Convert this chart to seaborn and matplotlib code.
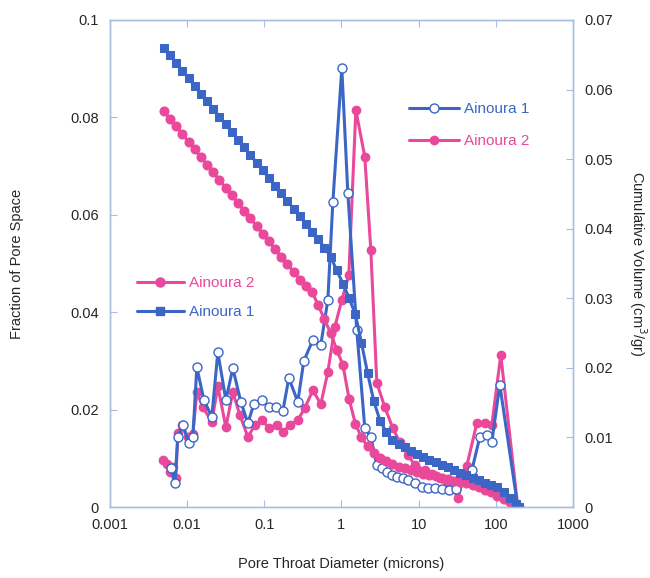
import matplotlib
matplotlib.use("Agg")
import matplotlib.pyplot as plt
import seaborn as sns
import pandas as pd
from matplotlib.lines import Line2D

# Pore throat size distribution (fraction of pore space), diameters in microns
a1_dist_d = [0.00617, 0.00695, 0.0076, 0.00883, 0.01054, 0.01189, 0.0134, 0.01652,
             0.02094, 0.02506, 0.03184, 0.03917, 0.04977, 0.06138, 0.07328, 0.09311,
             0.1148, 0.1413, 0.1742, 0.2084, 0.2723, 0.3258, 0.4266, 0.5408, 0.6668,
             0.7745, 1.012, 1.211, 1.581, 2.009, 2.404, 2.877, 3.334, 3.873, 4.498,
             5.224, 6.237, 7.244, 8.933, 10.99, 13.15, 16.22, 20.0, 24.6, 30.34,
             38.46, 48.9, 62.1, 76.4, 88.7, 112.7, 192.8]
a1_dist = [0.0080, 0.0049, 0.0144, 0.0168, 0.0131, 0.0144, 0.0287, 0.0220, 0.0185,
           0.0318, 0.0220, 0.0285, 0.0216, 0.0172, 0.0211, 0.0220, 0.0205, 0.0205,
           0.0197, 0.0265, 0.0216, 0.0300, 0.0343, 0.0333, 0.0425, 0.0626, 0.0901,
           0.0645, 0.0363, 0.0162, 0.0144, 0.0086, 0.0080, 0.0072, 0.0066, 0.0062,
           0.0060, 0.0055, 0.0049, 0.0041, 0.0039, 0.0039, 0.0037, 0.0035, 0.0037,
           0.0055, 0.0075, 0.0144, 0.0148, 0.0133, 0.0251, 0.0]

a2_dist_d = [0.00486, 0.00547, 0.00598, 0.00655, 0.00716, 0.0076, 0.00857, 0.01023,
             0.01189, 0.0134, 0.01603, 0.02094, 0.02506, 0.03184, 0.03917, 0.04831,
             0.06138, 0.07551, 0.09311, 0.1148, 0.1455, 0.1742, 0.2148, 0.2723,
             0.3357, 0.4266, 0.5408, 0.6668, 0.8222, 1.012, 1.247, 1.538, 2.009,
             2.404, 2.877, 3.648, 4.634, 5.702, 7.244, 8.933, 12.02, 14.83, 18.84,
             23.17, 27.73, 32.21, 42.07, 56.75, 72.11, 88.72, 116.1, 192.8]
a2_dist = [0.0097, 0.0088, 0.0072, 0.0082, 0.0060, 0.0152, 0.0168, 0.0144, 0.0150,
           0.0236, 0.0205, 0.0175, 0.0248, 0.0164, 0.0236, 0.0189, 0.0144, 0.0168,
           0.0179, 0.0162, 0.0168, 0.0154, 0.0168, 0.0179, 0.0203, 0.0240, 0.0211,
           0.0277, 0.0370, 0.0425, 0.0476, 0.0815, 0.0719, 0.0528, 0.0255, 0.0205,
           0.0162, 0.0133, 0.0107, 0.0086, 0.0076, 0.0068, 0.0060, 0.0051, 0.0039,
           0.0018, 0.0084, 0.0172, 0.0172, 0.0168, 0.0312, 0.0]

# Cumulative intruded volume (cm3/gr) on the injection diameter schedule
cum_d = [0.00501, 0.00603, 0.00724, 0.00871, 0.01047, 0.01259, 0.01514, 0.0182,
         0.02188, 0.0263, 0.03162, 0.03802, 0.04571, 0.05495, 0.06607, 0.07943,
         0.0955, 0.1148, 0.138, 0.166, 0.1995, 0.2399, 0.2884, 0.3467, 0.4169,
         0.5012, 0.6026, 0.7244, 0.871, 1.047, 1.259, 1.514, 1.82, 2.188, 2.63,
         3.162, 3.802, 4.571, 5.495, 6.607, 7.943, 9.55, 11.48, 13.8, 16.6, 19.95,
         23.99, 28.84, 34.67, 41.69, 50.12, 60.26, 72.44, 87.1, 104.7, 125.9,
         151.4, 182.0, 200.0]
a1_cum = [0.0660, 0.0649, 0.0638, 0.0627, 0.0616, 0.0605, 0.0594, 0.0583, 0.0572,
          0.0561, 0.0550, 0.0539, 0.0528, 0.0517, 0.0506, 0.0495, 0.0484, 0.0473,
          0.0462, 0.0451, 0.0440, 0.0429, 0.0418, 0.0407, 0.0396, 0.0385, 0.0373,
          0.0360, 0.0340, 0.0321, 0.0300, 0.0277, 0.0236, 0.0192, 0.0152, 0.0124,
          0.0108, 0.0096, 0.0091, 0.0086, 0.0081, 0.0076, 0.0072, 0.0068, 0.0064,
          0.0060, 0.0057, 0.0053, 0.0049, 0.0046, 0.0042, 0.0039, 0.0035, 0.0032,
          0.0029, 0.0022, 0.0013, 0.0005, 0.0]
a2_cum = [0.0569, 0.0558, 0.0547, 0.0536, 0.0525, 0.0514, 0.0503, 0.0492, 0.0481,
          0.0470, 0.0459, 0.0448, 0.0437, 0.0426, 0.0415, 0.0404, 0.0393, 0.0382,
          0.0371, 0.0360, 0.0349, 0.0338, 0.0327, 0.0318, 0.0309, 0.0290, 0.0270,
          0.0250, 0.0226, 0.0204, 0.0155, 0.0120, 0.0100, 0.0087, 0.0077, 0.0070,
          0.0066, 0.0062, 0.0058, 0.0056, 0.0053, 0.0050, 0.0048, 0.0046, 0.0044,
          0.0042, 0.0040, 0.0038, 0.0036, 0.0034, 0.0031, 0.0029, 0.0025, 0.0021,
          0.0016, 0.0012, 0.0007, 0.0002, 0.0]

x_ticks = [0.001, 0.01, 0.1, 1, 10, 100, 1000]
x_tick_labels = ["0.001", "0.01", "0.1", "1", "10", "100", "1000"]
left_ticks = [0, 0.02, 0.04, 0.06, 0.08, 0.1]
left_tick_labels = ["0", "0.02", "0.04", "0.06", "0.08", "0.1"]
right_ticks = [0, 0.01, 0.02, 0.03, 0.04, 0.05, 0.06, 0.07]
right_tick_labels = ["0", "0.01", "0.02", "0.03", "0.04", "0.05", "0.06", "0.07"]

BLUE = "#3b66c6"
PINK = "#e9489b"
FRAME = "#a7bfdc"

sns.set_style("white")
plt.rcParams["font.family"] = ["Liberation Sans", "DejaVu Sans"]

fig = plt.figure(figsize=(6.5, 5.78), dpi=100)
ax = fig.add_axes([0.169, 0.1228, 0.7125, 0.8426])
ax2 = ax.twinx()

dist1 = pd.DataFrame({"d": a1_dist_d, "v": a1_dist})
dist2 = pd.DataFrame({"d": a2_dist_d, "v": a2_dist})
cum1 = pd.DataFrame({"d": cum_d, "v": a1_cum})
cum2 = pd.DataFrame({"d": cum_d, "v": a2_cum})

lw = 2.2
sns.lineplot(data=dist2, x="d", y="v", ax=ax, sort=False, color=PINK, lw=lw,
             marker="o", markersize=6, markeredgecolor=PINK, markerfacecolor=PINK,
             markeredgewidth=1.0)
sns.lineplot(data=dist1, x="d", y="v", ax=ax, sort=False, color=BLUE, lw=lw,
             marker="o", markersize=6.5, markeredgecolor=BLUE, markerfacecolor="white",
             markeredgewidth=1.0)
sns.lineplot(data=cum2, x="d", y="v", ax=ax2, sort=False, color=PINK, lw=lw,
             marker="o", markersize=6.5, markeredgecolor=PINK, markerfacecolor=PINK)
sns.lineplot(data=cum1, x="d", y="v", ax=ax2, sort=False, color=BLUE, lw=lw,
             marker="s", markersize=6, markeredgecolor=BLUE, markerfacecolor=BLUE)

for a in (ax, ax2):
    a.set_xscale("log")
    a.set_xlim(0.001, 1000)
    for s in a.spines.values():
        s.set_color(FRAME)
        s.set_linewidth(1.0)

ax.set_ylim(0, 0.1)
ax2.set_ylim(0, 0.07)
ax.set_xticks(x_ticks)
ax.set_xticklabels(x_tick_labels)
ax.minorticks_off()
ax2.minorticks_off()
ax.set_yticks(left_ticks)
ax.set_yticklabels(left_tick_labels)
ax2.set_yticks(right_ticks)
ax2.set_yticklabels(right_tick_labels)

ax.tick_params(axis="x", which="major", direction="in", top=True, bottom=True,
               length=5, color=FRAME, labelsize=10.5, pad=8)
ax.tick_params(axis="y", which="major", direction="in", length=5, color=FRAME,
               labelsize=10.5, pad=8)
ax2.tick_params(axis="y", which="major", direction="in", length=5, color=FRAME,
                labelsize=10.5, pad=8)

ax.set_xlabel("Pore Throat Diameter (microns)", fontsize=10.5, labelpad=18)
ax.set_ylabel("Fraction of Pore Space", fontsize=10.5, labelpad=33)
ax2.set_ylabel("Cumulative Volume (cm$^3$/gr)", fontsize=10.5, rotation=270,
               labelpad=26)

# Legend for the distribution curves
h_a1 = Line2D([], [], color=BLUE, lw=lw, marker="o", markersize=6.5,
              markerfacecolor="white", markeredgecolor=BLUE)
h_a2 = Line2D([], [], color=PINK, lw=lw, marker="o", markersize=6,
              markerfacecolor=PINK, markeredgecolor=PINK)
leg1 = ax2.legend([h_a1, h_a2], ["Ainoura 1", "Ainoura 2"], loc="center left",
                  bbox_to_anchor=(0.645, 0.784), frameon=False, fontsize=11,
                  handlelength=3.3, handletextpad=0.3, labelspacing=1.15,
                  borderpad=0, borderaxespad=0, numpoints=1)
for t, c in zip(leg1.get_texts(), [BLUE, PINK]):
    t.set_color(c)
ax2.add_artist(leg1)

# Legend for the cumulative curves
h_c2 = Line2D([], [], color=PINK, lw=lw, marker="o", markersize=6.5,
              markerfacecolor=PINK, markeredgecolor=PINK)
h_c1 = Line2D([], [], color=BLUE, lw=lw, marker="s", markersize=6,
              markerfacecolor=BLUE, markeredgecolor=BLUE)
leg2 = ax2.legend([h_c2, h_c1], ["Ainoura 2", "Ainoura 1"], loc="center left",
                  bbox_to_anchor=(0.058, 0.430), frameon=False, fontsize=11,
                  handlelength=3.1, handletextpad=0.3, labelspacing=0.95,
                  borderpad=0, borderaxespad=0, numpoints=1)
for t, c in zip(leg2.get_texts(), [PINK, BLUE]):
    t.set_color(c)

fig.savefig("out.png", dpi=100)
